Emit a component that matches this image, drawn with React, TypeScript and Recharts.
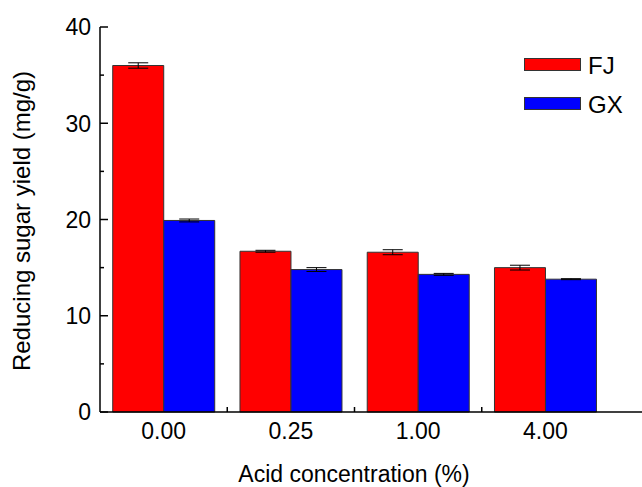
import { BarChart, Bar, XAxis, YAxis, ErrorBar } from 'recharts';

const categories = ['0.00', '0.25', '1.00', '4.00'];
const fjValues = [36.0, 16.7, 16.6, 15.0];
const fjErrors = [0.28, 0.1, 0.26, 0.25];
const gxValues = [19.9, 14.8, 14.3, 13.8];
const gxErrors = [0.15, 0.2, 0.1, 0.05];
const yTicks = [0, 5, 10, 15, 20, 25, 30, 35, 40];

const FONT = '"Liberation Sans", Arial, sans-serif';
const AXIS_X = 100;
const AXIS_Y = 412;
const BAND = 127.25;

const data = categories.map((c, i) => ({
    conc: c,
    FJ: fjValues[i],
    fjErr: fjErrors[i],
    GX: gxValues[i],
    gxErr: gxErrors[i],
}));

function YTick(props: any) {
    const { y, payload } = props;
    const major = payload.value % 10 === 0;
    return (
        <g>
            <line x1={AXIS_X} x2={AXIS_X + (major ? 8 : 4)} y1={y} y2={y} stroke="#000" strokeWidth={1.5} />
            {major && (
                <text x={AXIS_X - 9} y={y} dy="0.36em" textAnchor="end" fontSize={23} fill="#000" fontFamily={FONT}>
                    {payload.value}
                </text>
            )}
        </g>
    );
}

function XTick(props: any) {
    const { x, payload, index } = props;
    return (
        <g>
            {index < categories.length - 1 && (
                <line x1={x + BAND / 2} x2={x + BAND / 2} y1={AXIS_Y} y2={AXIS_Y - 5} stroke="#000" strokeWidth={1.5} />
            )}
            <text x={x} y={439} textAnchor="middle" fontSize={23} fill="#000" fontFamily={FONT}>
                {payload.value}
            </text>
        </g>
    );
}

// legend drawn as an overlay so it doesn't eat plot space
function LegendBox() {
    const items = [
        { name: 'FJ', color: '#ff0000' },
        { name: 'GX', color: '#0000ff' },
    ];
    return (
        <div style={{ position: 'absolute', left: 524, top: 59, fontFamily: FONT, fontSize: 24, lineHeight: '24px' }}>
            {items.map((it, i) => (
                <div key={it.name} style={{ display: 'flex', alignItems: 'center', height: 24, marginBottom: i === 0 ? 20 : 0, marginTop: -5 }}>
                    <div style={{ width: 55, height: 11, background: it.color, border: '1px solid #333', marginRight: 7, marginTop: -3 }} />
                    <span>{it.name}</span>
                </div>
            ))}
        </div>
    );
}

export default function App() {
    return (
        <div style={{ position: 'absolute', left: 0, top: 0, width: 642, height: 487, background: '#fff' }}>
            <BarChart
                width={642}
                height={487}
                data={data}
                margin={{ top: 27, right: 0, left: 40, bottom: 0 }}
                barCategoryGap="10%"
                barGap={0}
            >
                <XAxis
                    dataKey="conc"
                    height={75}
                    padding={{ left: 0, right: 33 }}
                    axisLine={{ stroke: '#000', strokeWidth: 1.5 }}
                    tickLine={false}
                    tick={<XTick />}
                    interval={0}
                    label={{
                        content: () => (
                            <text x={354} y={482} textAnchor="middle" fontSize={23} fill="#000" fontFamily={FONT}>
                                Acid concentration (%)
                            </text>
                        ),
                    }}
                />
                <XAxis
                    xAxisId="top"
                    orientation="top"
                    dataKey="conc"
                    height={0}
                    tick={false}
                    tickLine={false}
                    axisLine={{ stroke: '#000', strokeWidth: 1.5 }}
                />
                <YAxis
                    width={60}
                    domain={[0, 40]}
                    ticks={yTicks}
                    interval={0}
                    axisLine={{ stroke: '#000', strokeWidth: 1.5 }}
                    tickLine={false}
                    tick={<YTick />}
                    label={{
                        content: () => (
                            <text
                                x={30}
                                y={221}
                                transform="rotate(-90 30 221)"
                                textAnchor="middle"
                                fontSize={24}
                                fill="#000"
                                fontFamily={FONT}
                            >
                                Reducing sugar yield (mg/g)
                            </text>
                        ),
                    }}
                />
                <Bar dataKey="FJ" fill="#ff0000" stroke="#333" strokeWidth={1} isAnimationActive={false}>
                    <ErrorBar dataKey="fjErr" width={10} stroke="#000" strokeWidth={1} direction="y" />
                </Bar>
                <Bar dataKey="GX" fill="#0000ff" stroke="#333" strokeWidth={1} isAnimationActive={false}>
                    <ErrorBar dataKey="gxErr" width={10} stroke="#000" strokeWidth={1} direction="y" />
                </Bar>
            </BarChart>
            <LegendBox />
        </div>
    );
}
